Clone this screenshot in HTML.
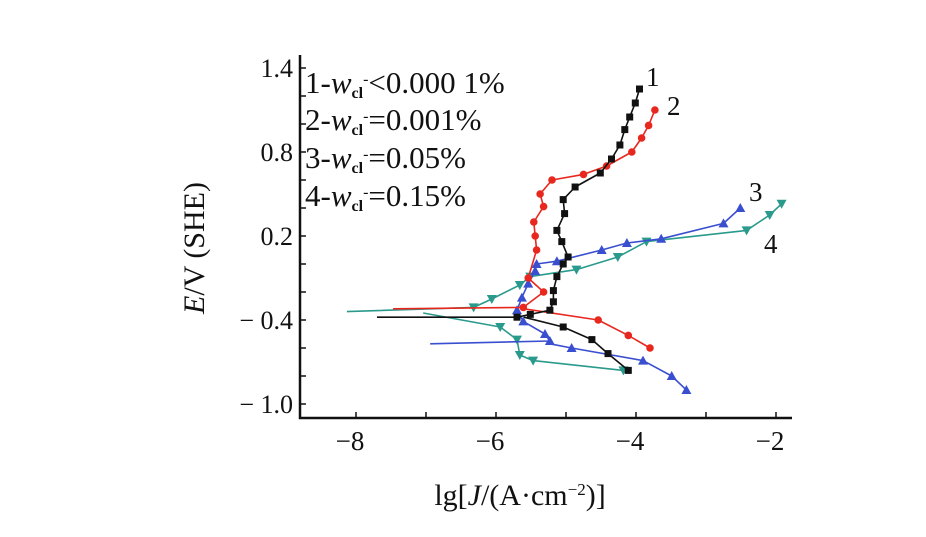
<!DOCTYPE html>
<html><head><meta charset="utf-8"><style>
html,body{margin:0;padding:0;background:#fff;width:926px;height:537px;overflow:hidden}
svg text{font-family:"Liberation Serif",serif;fill:#111}
</style></head><body>
<svg id="chart" width="926" height="537">
<g id="axes"></g><g id="series"></g>
<g font-size="31">
<text x="305" y="93">1-<tspan font-style="italic">w</tspan><tspan font-size="16" dy="5" font-weight="bold">cl</tspan><tspan font-size="16" dy="-14">-</tspan><tspan dy="9">&lt;0.000 1%</tspan></text>
<text x="305" y="130">2-<tspan font-style="italic">w</tspan><tspan font-size="16" dy="5" font-weight="bold">cl</tspan><tspan font-size="16" dy="-14">-</tspan><tspan dy="9">=0.001%</tspan></text>
<text x="305" y="168">3-<tspan font-style="italic">w</tspan><tspan font-size="16" dy="5" font-weight="bold">cl</tspan><tspan font-size="16" dy="-14">-</tspan><tspan dy="9">=0.05%</tspan></text>
<text x="305" y="206">4-<tspan font-style="italic">w</tspan><tspan font-size="16" dy="5" font-weight="bold">cl</tspan><tspan font-size="16" dy="-14">-</tspan><tspan dy="9">=0.15%</tspan></text>
</g>
<g font-size="27">
<text x="646" y="86">1</text>
<text x="667" y="115">2</text>
<text x="749" y="201">3</text>
<text x="764" y="253">4</text>
</g>
<text x="520" y="505" font-size="30" text-anchor="middle">lg[<tspan font-style="italic">J</tspan>/(A·cm<tspan font-size="17" dy="-10">−2</tspan><tspan dy="10">)]</tspan></text>
<text transform="translate(204,248) rotate(-90)" font-size="30" text-anchor="middle"><tspan font-style="italic">E</tspan>/V (SHE)</text>
</svg>
<script>
const xTicks=[-8,-6,-4,-2];
const yTicks=[1.4,0.8,0.2,-0.4,-1.0];
const s1Anodic=[[-7.70,-0.38],[-5.70,-0.38],[-5.51,-0.36],[-5.23,-0.33],[-5.18,-0.27],[-5.18,-0.19],[-5.13,-0.09],[-5.04,0.00],[-4.97,0.05],[-5.06,0.16],[-5.13,0.24],[-5.02,0.36],[-5.04,0.46],[-4.87,0.55],[-4.51,0.65],[-4.35,0.75],[-4.23,0.85],[-4.16,0.96],[-4.09,1.05],[-4.01,1.15],[-3.95,1.25]];
const s1Cathodic=[[-5.60,-0.38],[-5.04,-0.45],[-4.63,-0.54],[-4.40,-0.64],[-4.11,-0.76]];
const s2Anodic=[[-7.47,-0.32],[-5.61,-0.31],[-5.32,-0.20],[-5.54,-0.10],[-5.42,0.10],[-5.44,0.20],[-5.46,0.30],[-5.32,0.41],[-5.37,0.50],[-5.20,0.60],[-4.75,0.64],[-4.42,0.70],[-4.06,0.80],[-3.92,0.90],[-3.82,0.99],[-3.73,1.10]];
const s2Cathodic=[[-5.60,-0.32],[-4.54,-0.40],[-4.11,-0.51],[-3.80,-0.60]];
const s3Anodic=[[-6.94,-0.57],[-5.23,-0.55],[-5.30,-0.50],[-5.61,-0.41],[-5.70,-0.33],[-5.63,-0.24],[-5.54,-0.14],[-5.44,-0.05],[-5.42,0.00],[-5.13,0.02],[-4.49,0.10],[-4.13,0.15],[-3.64,0.18],[-2.75,0.29],[-2.51,0.40]];
const s3Cathodic=[[-5.23,-0.57],[-4.92,-0.60],[-3.90,-0.69],[-3.49,-0.80],[-3.28,-0.90]];
const s4Anodic=[[-8.13,-0.34],[-6.32,-0.31],[-6.06,-0.25],[-5.66,-0.15],[-5.51,-0.09],[-4.85,-0.04],[-4.26,0.05],[-3.85,0.16],[-2.42,0.24],[-2.09,0.35],[-1.92,0.43]];
const s4Cathodic=[[-7.04,-0.35],[-5.94,-0.45],[-5.70,-0.54],[-5.66,-0.65],[-5.47,-0.69],[-4.18,-0.76]];

const X=v=>356+(v+8)*70;
const Y=e=>68+(1.4-e)*140;
const NS='http://www.w3.org/2000/svg';
const axes=document.getElementById('axes'), ser=document.getElementById('series');
function mk(tag,attrs,parent){const el=document.createElementNS(NS,tag);for(const k in attrs)el.setAttribute(k,attrs[k]);parent.appendChild(el);return el;}
let a=mk('path',{d:'M300,55 V418 H792',fill:'none',stroke:'#111','stroke-width':2.5},axes);


for(let v=-8;v<=-1.9;v+=1){let t=mk('line',{x1:X(v),x2:X(v),y1:418,y2:412,stroke:'#111','stroke-width':1.5},axes);

}
xTicks.forEach(v=>{let t=mk('text',{x:X(v)-6,y:450,'font-size':27,'text-anchor':'middle'},axes);t.textContent='\u2212'+Math.abs(v);

});
for(let i=0;i<=12;i++){let e=1.4-i*0.2;let t=mk('line',{x1:300,x2:306,y1:Y(e),y2:Y(e),stroke:'#111','stroke-width':1.5},axes);

}
yTicks.forEach(e=>{let t=mk('text',{x:293,y:Y(e)+9,'font-size':26,'text-anchor':'end'},axes);t.textContent=(e<0?'\u2212 ':'')+Math.abs(e).toFixed(1);

});
function marker(g,x,y,type,color){let m;
 if(type==='sq')m=mk('rect',{x:x-3.5,y:y-3.5,width:7,height:7,fill:color},g);
 else if(type==='ci')m=mk('circle',{cx:x,cy:y,r:3.8,fill:color},g);
 else if(type==='up')m=mk('path',{d:`M${x},${y-5}L${x+5},${y+4}L${x-5},${y+4}Z`,fill:color},g);
 else m=mk('path',{d:`M${x},${y+5}L${x+5},${y-4}L${x-5},${y-4}Z`,fill:color},g);
 
 }
function draw(pts,color,type,name){const g=mk('g',{},ser);
 
 
 mk('polyline',{points:pts.map(p=>X(p[0])+','+Y(p[1])).join(' '),fill:'none',stroke:color,'stroke-width':1.6,'stroke-linejoin':'round'},g);
 pts.forEach((p,i)=>{if(i>0)marker(g,X(p[0]),Y(p[1]),type,color);});}
draw(s4Anodic,'#2a9a8c','dn','series-4-anodic');draw(s4Cathodic,'#2a9a8c','dn','series-4-cathodic');
draw(s3Anodic,'#3a4fd0','up','series-3-anodic');draw(s3Cathodic,'#3a4fd0','up','series-3-cathodic');
draw(s2Anodic,'#e8281e','ci','series-2-anodic');draw(s2Cathodic,'#e8281e','ci','series-2-cathodic');
draw(s1Anodic,'#111','sq','series-1-anodic');draw(s1Cathodic,'#111','sq','series-1-cathodic');
</script>
</body></html>
